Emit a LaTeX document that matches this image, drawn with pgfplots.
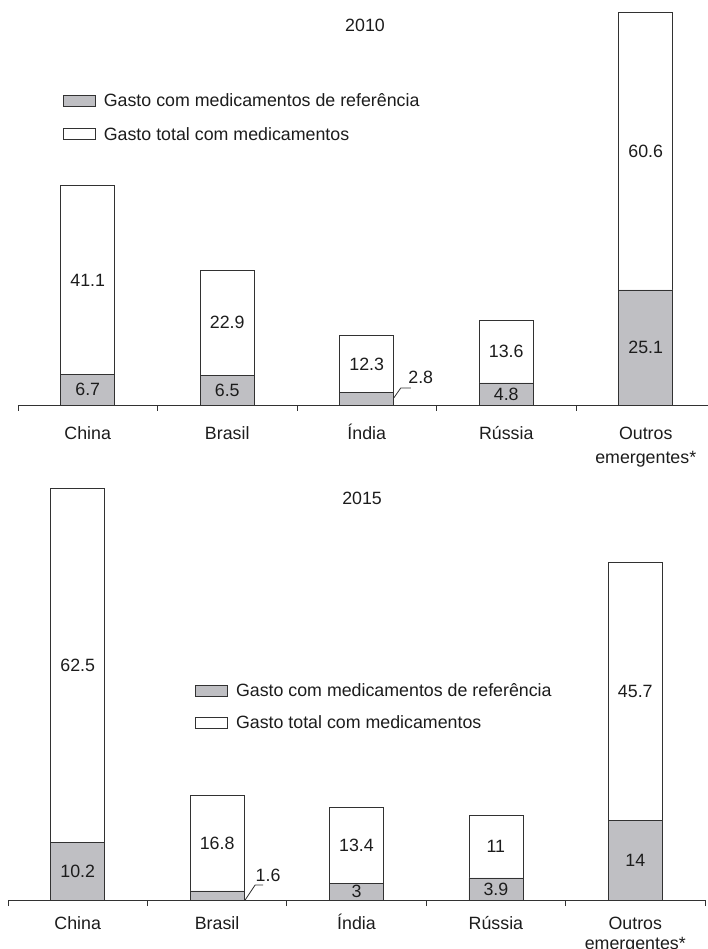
\documentclass[border=0pt]{standalone}
\usepackage{pgfplots}
\pgfplotsset{compat=1.18}
\usepackage{fontspec}
\setmainfont{Liberation Sans}
\definecolor{gref}{RGB}{191,191,195}
\definecolor{edge}{RGB}{50,50,50}
\definecolor{txt}{RGB}{28,28,28}
\newcommand\f{\fontsize{17.8pt}{24pt}\selectfont}
\pgfplotsset{
  panel/.style={
    scale only axis, ybar stacked, bar width=54pt,
    xmin=-0.5, xmax=4.5, ymin=0,
    axis x line*=bottom, axis y line=none,
    axis line style={color=edge, line width=0.8pt},
    xtick={0,1,2,3,4},
    major tick length=0pt,
    minor xtick={-0.5,0.5,1.5,2.5,3.5,4.5},
    minor tick length=6pt, tick align=outside,
    tick style={color=edge, line width=0.8pt},
    xticklabel style={anchor=base, text=txt, font=\f},
    ytick=\empty,
    legend cell align=left,
    legend image code/.code={\draw[##1, line width=0.8pt] (0pt,-5.5pt) rectangle (32pt,5.5pt);},
    title style={anchor=center, font=\f, text=txt},
  },
  bars/.style={draw=edge, line width=0.8pt},
}
\begin{document}
\begin{tikzpicture}[font=\f, text=txt]
\useasboundingbox (0,0) rectangle (707pt,949pt);
% ---------- 2010 ----------
\begin{axis}[panel, at={(18pt,544pt)}, anchor=south west,
  width=697.5pt, height=400pt, ymax=87.24,
  xticklabels={China,Brasil,Índia,Rússia,{\begin{tabular}[t]{@{}c@{}}Outros\\emergentes*\end{tabular}}},
  xticklabel style={yshift=-35pt},
  title=2010, title style={at={(axis description cs:0.4975,0.935)}},
  legend style={at={(axis description cs:0.06,0.79)}, anchor=north west,
    draw=none, fill=none, font=\f, text=txt, row sep=15.5pt,
    /tikz/every odd column/.append style={column sep=6pt}}]
\addplot[bars, fill=gref] coordinates {(0,6.7) (1,6.5) (2,2.8) (3,4.8) (4,25.1)};
\addlegendentry{Gasto com medicamentos de referência}
\addplot[bars, fill=white] coordinates {(0,41.1) (1,22.9) (2,12.3) (3,13.6) (4,60.6)};
\addlegendentry{Gasto total com medicamentos}
\coordinate (a1) at (axis cs:0,3.35);
\coordinate (a2) at (axis cs:0,27.25);
\coordinate (a3) at (axis cs:1,3.25);
\coordinate (a4) at (axis cs:1,17.95);
\coordinate (a5) at (axis cs:2,8.95);
\coordinate (a6) at (axis cs:3,2.4);
\coordinate (a7) at (axis cs:3,11.6);
\coordinate (a8) at (axis cs:4,12.55);
\coordinate (a9) at (axis cs:4,55.4);
\draw[edge, line width=0.8pt] ([xshift=27pt,yshift=7pt]axis cs:2,0) -- ++(7pt,10pt) -- ++(10pt,0pt);
\node at ([xshift=54pt,yshift=28pt]axis cs:2,0) {2.8};
\end{axis}
\node at (a1) {6.7};
\node at (a2) {41.1};
\node at (a3) {6.5};
\node at (a4) {22.9};
\node at (a5) {12.3};
\node at (a6) {4.8};
\node at (a7) {13.6};
\node at (a8) {25.1};
\node at (a9) {60.6};
% ---------- 2015 ----------
\begin{axis}[panel, at={(8pt,49pt)}, anchor=south west,
  width=697pt, height=430pt, ymax=75.97,
  xticklabels={China,Brasil,Índia,Rússia,{\begin{tabular}[t]{@{}c@{}}Outros\\[-4pt]emergentes*\end{tabular}}},
  xticklabel style={yshift=-29pt},
  title=2015, title style={at={(axis description cs:0.508,0.921)}},
  legend style={at={(axis description cs:0.264,0.512)}, anchor=north west,
    draw=none, fill=none, font=\f, text=txt, row sep=13pt,
    /tikz/every odd column/.append style={column sep=6pt}}]
\addplot[bars, fill=gref] coordinates {(0,10.2) (1,1.6) (2,3) (3,3.9) (4,14)};
\addlegendentry{Gasto com medicamentos de referência}
\addplot[bars, fill=white] coordinates {(0,62.5) (1,16.8) (2,13.4) (3,11) (4,45.7)};
\addlegendentry{Gasto total com medicamentos}
\coordinate (b1) at (axis cs:0,5.1);
\coordinate (b2) at (axis cs:0,41.45);
\coordinate (b3) at (axis cs:1,10);
\coordinate (b4) at (axis cs:2,1.5);
\coordinate (b5) at (axis cs:2,9.7);
\coordinate (b6) at (axis cs:3,1.95);
\coordinate (b7) at (axis cs:3,9.4);
\coordinate (b8) at (axis cs:4,7);
\coordinate (b9) at (axis cs:4,36.85);
\draw[edge, line width=0.8pt] ([xshift=28pt,yshift=0pt]axis cs:1,0) -- ++(10pt,15pt) -- ++(8pt,0pt);
\node at ([xshift=51pt,yshift=25pt]axis cs:1,0) {1.6};
\end{axis}
\node at (b1) {10.2};
\node at (b2) {62.5};
\node at (b3) {16.8};
\node at (b4) {3};
\node at (b5) {13.4};
\node at (b6) {3.9};
\node at (b7) {11};
\node at (b8) {14};
\node at (b9) {45.7};
\end{tikzpicture}
\end{document}
